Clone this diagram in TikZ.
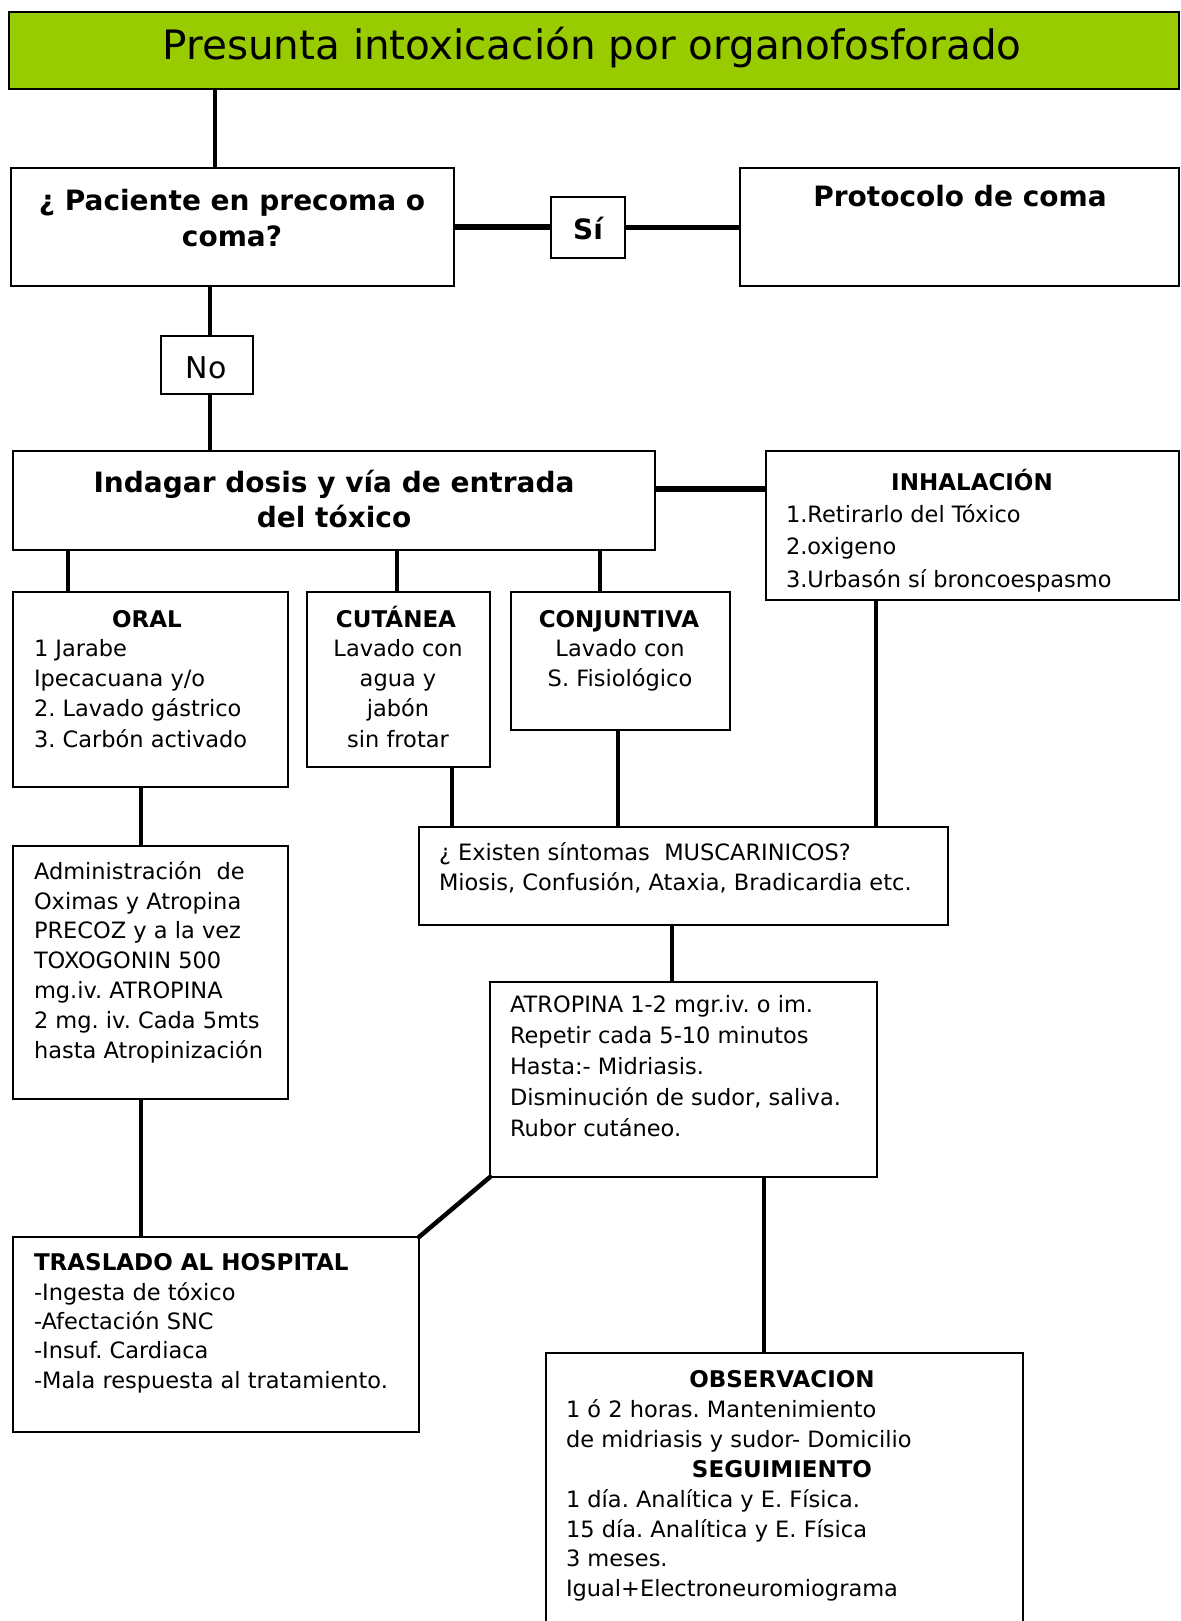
\documentclass[tikz,border=0pt]{standalone}
\usepackage{fontspec}
\setmainfont{DejaVu Sans}
\frenchspacing
\definecolor{ttlgreen}{RGB}{153,204,0}
\tikzset{
  box/.style={draw=black, line width=2.5pt, fill=white, rectangle, inner sep=0pt, outer sep=0pt},
  conn/.style={draw=black, line width=3.5pt},
  thickconn/.style={draw=black, line width=5.5pt},
  body/.style={inner sep=0pt, outer sep=0pt, align=left, font=\fontsize{22.5}{30}\selectfont},
  cbody/.style={inner sep=0pt, outer sep=0pt, align=center, font=\fontsize{22.5}{30}\selectfont},
  head/.style={inner sep=0pt, outer sep=0pt, font=\bfseries\fontsize{23}{30}\selectfont},
  bighead/.style={inner sep=0pt, outer sep=0pt, align=center, font=\bfseries\fontsize{28}{36}\selectfont},
}
\begin{document}
\begin{tikzpicture}[x=1pt, y=-1pt]
\path[use as bounding box, clip] (0,0) rectangle (1180,1621);
\fill[white] (0,0) rectangle (1180,1621);

% boxes
\node[box, fill=ttlgreen, minimum width=1170pt, minimum height=77pt] (title) at (594,50.5) {};
\node[box, minimum width=443pt, minimum height=118pt] (pac) at (232.5,227) {};
\node[box, minimum width=74pt, minimum height=61pt] (si) at (588,227.5) {};
\node[box, minimum width=439pt, minimum height=118pt] (prot) at (959.5,227) {};
\node[box, minimum width=92pt, minimum height=58pt] (no) at (207,365) {};
\node[box, minimum width=642pt, minimum height=99pt] (indag) at (334,500.5) {};
\node[box, minimum width=413pt, minimum height=149pt] (inhal) at (972.5,525.5) {};
\node[box, minimum width=275pt, minimum height=195pt] (oral) at (150.5,689.5) {};
\node[box, minimum width=183pt, minimum height=175pt] (cut) at (398.5,679.5) {};
\node[box, minimum width=219pt, minimum height=138pt] (conj) at (620.5,661) {};
\node[box, minimum width=275pt, minimum height=253pt] (admin) at (150.5,972.5) {};
\node[box, minimum width=529pt, minimum height=98pt] (musc) at (683.5,876) {};
\node[box, minimum width=387pt, minimum height=195pt] (atrop) at (683.5,1079.5) {};
\node[box, minimum width=406pt, minimum height=195pt] (trasl) at (216,1334.5) {};
\node[box, minimum width=477pt, minimum height=307pt] (obs) at (784.5,1506.5) {};

% connectors
\draw[conn] ([xshift=-17.5pt]pac.north) -- ([xshift=-17.5pt]pac.north |- title.south);
\draw[thickconn] (pac.east) -- (pac.east -| si.west);
\draw[thickconn] (si.east) -- (si.east -| prot.west);
\draw[conn] ([xshift=3pt]no.north) -- ([xshift=3pt]no.north |- pac.south);
\draw[conn] ([xshift=3pt]no.south) -- ([xshift=3pt]no.south |- indag.north);
\draw[thickconn] ([yshift=11.5pt]indag.east) -- ([yshift=11.5pt]indag.east -| inhal.west);
\draw[conn] ([xshift=-82.5pt]oral.north) -- ([xshift=-82.5pt]oral.north |- indag.south);
\draw[conn] ([xshift=-1.5pt]cut.north) -- ([xshift=-1.5pt]cut.north |- indag.south);
\draw[conn] ([xshift=-20.5pt]conj.north) -- ([xshift=-20.5pt]conj.north |- indag.south);
\draw[conn] ([xshift=-9.5pt]admin.north) -- ([xshift=-9.5pt]admin.north |- oral.south);
\draw[conn] ([xshift=-75pt]trasl.north) -- ([xshift=-75pt]trasl.north |- admin.south);
\draw[conn] ([xshift=53.5pt]cut.south) -- ([xshift=53.5pt]cut.south |- musc.north);
\draw[conn] ([xshift=-2.5pt]conj.south) -- ([xshift=-2.5pt]conj.south |- musc.north);
\draw[conn] ([xshift=-96.5pt]inhal.south) -- ([xshift=-96.5pt]inhal.south |- musc.north);
\draw[conn] ([xshift=-11.5pt]atrop.north) -- ([xshift=-11.5pt]atrop.north |- musc.south);
\draw[conn] ([xshift=-20.5pt]obs.north) -- ([xshift=-20.5pt]obs.north |- atrop.south);
\draw[conn, line width=4.5pt, line cap=round] (atrop.south west) -- (trasl.north east);

% texts (base anchor of a multi-line node = baseline of its last line)
\node[inner sep=0pt, anchor=base, font=\fontsize{40.5}{48}\selectfont] (titleT) at (592,60) {Presunta intoxicación por organofosforado};
\node[bighead, anchor=base] (pacT) at (232,247) {¿ Paciente en precoma o\\coma?};
\node[bighead, anchor=base] (siT) at (588,240) {Sí};
\node[bighead, anchor=base] (protT) at (960,207) {Protocolo de coma};
\node[inner sep=0pt, anchor=base, font=\fontsize{30}{36}\selectfont] (noT) at (206,378) {No};
\node[bighead, anchor=base, font=\bfseries\fontsize{28}{35}\selectfont] (indagT) at (334,527) {Indagar dosis y vía de entrada\\del tóxico};

\node[head, anchor=base] (inhalH) at (972,490) {INHALACIÓN};
\node[body, anchor=base west, font=\fontsize{22.5}{32.5}\selectfont] (inhalT) at (786,587) {1.Retirarlo del Tóxico\\2.oxigeno\\3.Urbasón sí broncoespasmo};

\node[head, anchor=base] (oralH) at (147,627) {ORAL};
\node[body, anchor=base west, font=\fontsize{22.5}{30.3}\selectfont] (oralT) at (34,747) {1 Jarabe\\Ipecacuana y/o\\2. Lavado gástrico\\3. Carbón activado};

\node[head, anchor=base] (cutH) at (396,627) {CUTÁNEA};
\node[cbody, anchor=base, font=\fontsize{22.5}{30.3}\selectfont] (cutT) at (398,747) {Lavado con\\agua y\\jabón\\sin frotar};

\node[head, anchor=base] (conjH) at (619,627) {CONJUNTIVA};
\node[cbody, anchor=base] (conjT) at (620,686) {Lavado con\\S. Fisiológico};

\node[body, anchor=base west, font=\fontsize{22.5}{29.8}\selectfont] (adminT) at (34,1058) {Administración~ de\\Oximas y Atropina\\PRECOZ y a la vez\\TOXOGONIN 500\\mg.iv. ATROPINA\\2 mg. iv. Cada 5mts\\hasta Atropinización};

\node[body, anchor=base west] (muscT) at (439,890) {¿ Existen síntomas~ MUSCARINICOS?\\Miosis, Confusión, Ataxia, Bradicardia etc.};

\node[body, anchor=base west, font=\fontsize{22.5}{30.8}\selectfont] (atropT) at (510,1136) {ATROPINA 1-2 mgr.iv. o im.\\Repetir cada 5-10 minutos\\Hasta:- Midriasis.\\Disminución de sudor, saliva.\\Rubor cutáneo.};

\node[head, anchor=base west] (traslH) at (34,1270) {TRASLADO AL HOSPITAL};
\node[body, anchor=base west, font=\fontsize{22.5}{29.3}\selectfont] (traslT) at (34,1388) {-Ingesta de tóxico\\-Afectación SNC\\-Insuf. Cardiaca\\-Mala respuesta al tratamiento.};

\node[head, anchor=base] (obsH) at (782,1387) {OBSERVACION};
\node[body, anchor=base west] (obsT) at (566,1447) {1 ó 2 horas. Mantenimiento\\de midriasis y sudor- Domicilio};
\node[head, anchor=base] (segH) at (782,1477) {SEGUIMIENTO};
\node[body, anchor=base west, font=\fontsize{22.5}{29.5}\selectfont] (segT) at (566,1596) {1 día. Analítica y E. Física.\\15 día. Analítica y E. Física\\3 meses.\\Igual+Electroneuromiograma};
\end{tikzpicture}
\end{document}
